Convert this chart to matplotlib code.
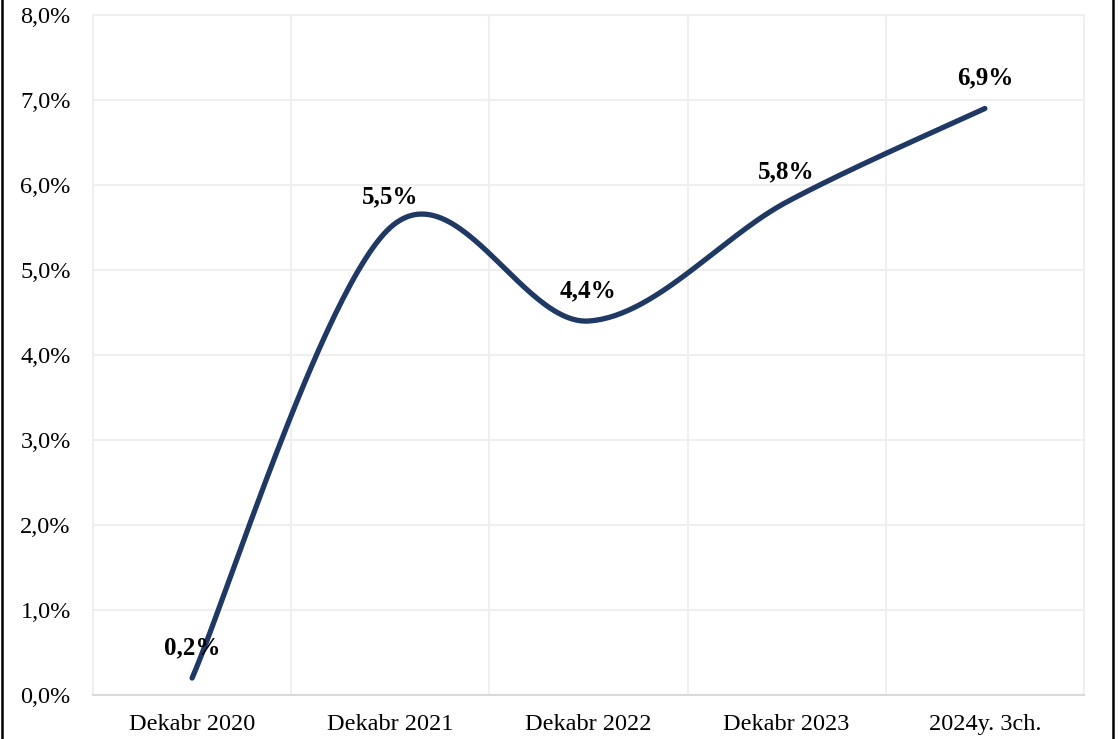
import numpy as np
import matplotlib
matplotlib.use("Agg")
import matplotlib.pyplot as plt
from matplotlib.lines import Line2D

categories = ["Dekabr 2020", "Dekabr 2021", "Dekabr 2022", "Dekabr 2023", "2024y. 3ch."]
values = [0.2, 5.5, 4.4, 5.8, 6.9]
labels = ["0,2%", "5,5%", "4,4%", "5,8%", "6,9%"]

line_color = "#1f3864"
grid_color = "#efefef"

plt.rcParams['font.family'] = ['Liberation Serif', 'DejaVu Serif']


def smooth(xs, ys, n=60):
    # excel-like smoothed line: catmull-rom segments as cubic beziers
    pts = np.column_stack([xs, ys]).astype(float)
    p = np.vstack([pts[0], pts, pts[-1]])
    out = []
    for i in range(1, len(p) - 2):
        p0, p1, p2, p3 = p[i - 1], p[i], p[i + 1], p[i + 2]
        c1 = p1 + (p2 - p0) / 6
        c2 = p2 - (p3 - p1) / 6
        t = np.linspace(0, 1, n)[:, None]
        seg = (1 - t) ** 3 * p1 + 3 * (1 - t) ** 2 * t * c1 + 3 * (1 - t) * t ** 2 * c2 + t ** 3 * p2
        out.append(seg if i == 1 else seg[1:])
    out = np.vstack(out)
    return out[:, 0], out[:, 1]


fig = plt.figure(figsize=(11.19, 7.39), dpi=100)
ax = fig.add_axes([0.0831, 0.0595, 0.8856, 0.9202])

x = np.arange(len(categories))
sx, sy = smooth(x, values)
ax.plot(sx, sy, color=line_color, lw=3.8, solid_capstyle="round", zorder=3)

for xi, v, lab in zip(x, values, labels):
    ax.annotate(lab, (xi, v), xytext=(0, 22), textcoords="offset points",
                ha="center", va="center", fontsize=18, fontweight="bold", color="black")

ax.set_xlim(-0.5, len(categories) - 0.5)
ax.set_ylim(0, 8)
ax.set_xticks(x)
ax.set_xticklabels(categories, fontsize=17.5)
ax.set_yticks(np.arange(0, 9, 1))
ax.set_yticklabels([f"{i},0%" for i in range(9)], fontsize=17.5)
ax.set_xticks(np.arange(0.5, len(categories) - 0.5, 1), minor=True)
ax.tick_params(axis="both", which="both", length=0)
ax.tick_params(axis="x", pad=14)
ax.tick_params(axis="y", pad=16)

ax.grid(axis="y", color=grid_color, lw=1.5)
ax.grid(axis="x", which="minor", color=grid_color, lw=1.5)
ax.set_axisbelow(True)
for s in ["top", "right", "left"]:
    ax.spines[s].set_color(grid_color)
    ax.spines[s].set_linewidth(1.5)
ax.spines["bottom"].set_color("#d9d9d9")
ax.spines["bottom"].set_linewidth(1.5)

# outer frame (left and right edges visible)
fig.add_artist(Line2D([0.0022, 0.0022], [0, 1], color="black", lw=1.8, transform=fig.transFigure))
fig.add_artist(Line2D([0.9946, 0.9946], [0, 1], color="black", lw=1.8, transform=fig.transFigure))

fig.savefig("out.png", dpi=100, facecolor="white")
